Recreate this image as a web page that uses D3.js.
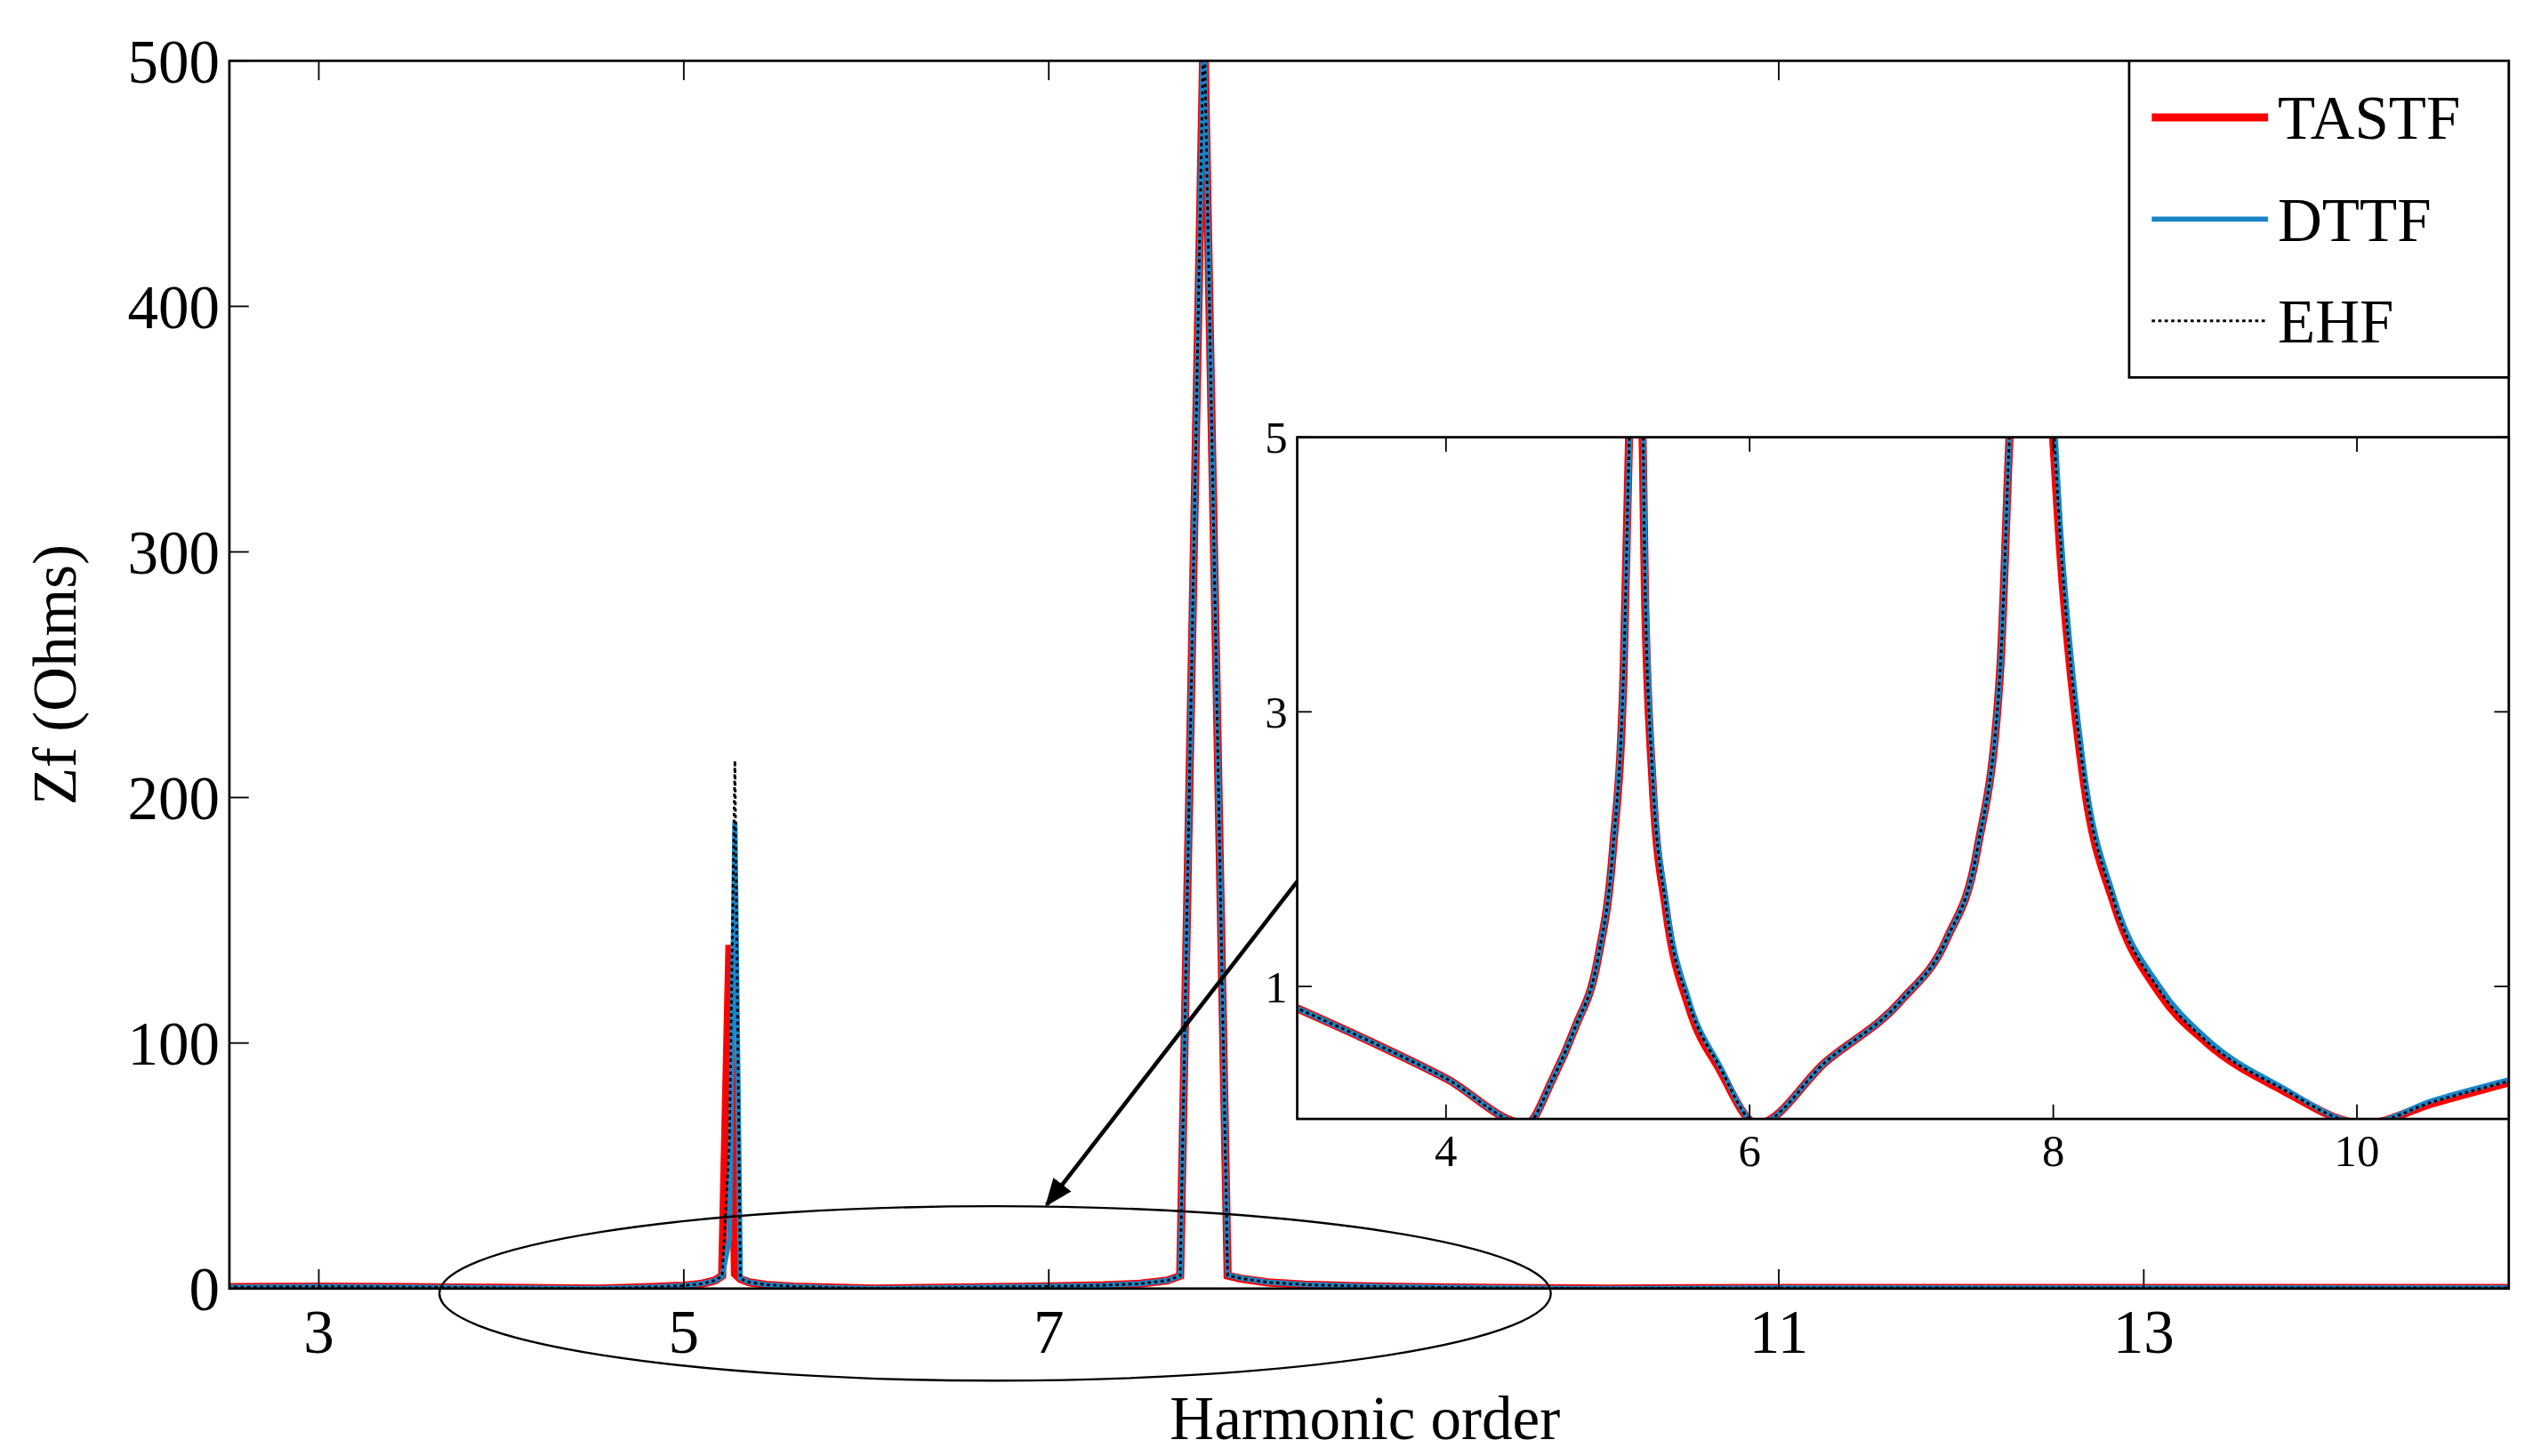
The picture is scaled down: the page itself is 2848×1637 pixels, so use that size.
<!DOCTYPE html>
<html>
<head>
<meta charset="utf-8">
<script src="https://cdn.jsdelivr.net/npm/d3@7"></script>
<style>
  body { margin: 0; background: #fff; }
  text { font-family: "Liberation Serif", "DejaVu Serif", serif; }
</style>
</head>
<body>
<script>
// harmonic order samples
var harmonics = [3.0, 3.5, 4.0, 4.53, 4.7, 4.85, 5.0, 5.1, 5.17, 5.21, 5.25, 5.28, 5.31, 5.36, 5.45, 5.6, 5.8, 6.05,
  6.5, 7.0, 7.3, 7.5, 7.65, 7.72, 7.85, 7.98, 8.05, 8.2, 8.4, 8.7, 9.0, 9.5, 10.05, 10.5, 11.0];
var tastf = [0.85, 0.6, 0.33, 0.0, 0.32, 0.7, 1.2, 2.0, 3.3, 5.2, 140, 6, 3.9, 2.5, 1.55, 0.85, 0.4, 0.0,
  0.45, 0.9, 1.35, 2.0, 3.3, 5.2, 520, 5.3, 4.1, 2.5, 1.6, 0.95, 0.6, 0.25, 0.0, 0.15, 0.3];
var dttf = [0.85, 0.6, 0.33, 0.0, 0.32, 0.7, 1.2, 2.0, 3.3, 5.0, 20, 190, 4.2, 2.6, 1.62, 0.9, 0.43, 0.0,
  0.45, 0.9, 1.35, 2.0, 3.3, 5.2, 520, 5.6, 4.3, 2.6, 1.65, 1.0, 0.63, 0.27, 0.0, 0.17, 0.32];
var ehf = [0.85, 0.6, 0.33, 0.0, 0.32, 0.7, 1.2, 2.0, 3.3, 5.1, 60, 215, 4.0, 2.55, 1.58, 0.88, 0.42, 0.0,
  0.45, 0.9, 1.35, 2.0, 3.3, 5.2, 520, 5.45, 4.2, 2.55, 1.62, 0.97, 0.61, 0.26, 0.0, 0.16, 0.31];
// flat tails outside the sampled range
var tailLeft = 2.5, tailRight = 15;
var mainXTicks = [3, 5, 7, 11, 13];
var mainYTicks = [0, 100, 200, 300, 400, 500];
var insetXTicks = [4, 6, 8, 10];
var insetYTicks = [1, 3, 5];
var legendNames = ['TASTF', 'DTTF', 'EHF'];

var series = [
  { name: 'TASTF', values: tastf, color: '#ff0000', width: 5, dash: null },
  { name: 'DTTF', values: dttf, color: '#1a86c8', width: 3.2, dash: null },
  { name: 'EHF', values: ehf, color: '#000', width: 1.6, dash: '2,2' }
];

var W = 1568, H = 900;
var svg = d3.select('body').append('svg')
  .attr('width', 2848).attr('height', 1637)
  .attr('viewBox', '0 0 ' + W + ' ' + H);

function points(vals, tails) {
  var pts = harmonics.map(function (h, i) { return [h, vals[i]]; });
  if (tails) { pts.unshift([tailLeft, 0.6]); pts.push([tailRight, 0.3]); }
  return pts;
}

function drawPanel(g, x, y, id, tails) {
  g.append('clipPath').attr('id', id).append('rect')
    .attr('x', x.range()[0]).attr('y', y.range()[1])
    .attr('width', x.range()[1] - x.range()[0]).attr('height', y.range()[0] - y.range()[1]);
  var line = d3.line()
    .curve(tails ? d3.curveLinear : d3.curveMonotoneX)
    .x(function (d) { return x(d[0]); })
    .y(function (d) { return y(Math.min(d[1], y.domain()[1] * 1.3)); });
  series.forEach(function (s) {
    g.append('path')
      .attr('clip-path', 'url(#' + id + ')')
      .attr('d', line(points(s.values, tails)))
      .attr('fill', 'none').attr('stroke', s.color)
      .attr('stroke-width', s.width)
      .attr('stroke-dasharray', s.dash);
  });
}

function frame(g, x, y, xt, yt, fs, tl) {
  var x0 = x.range()[0], x1 = x.range()[1], y0 = y.range()[0], y1 = y.range()[1];
  g.append('rect').attr('x', x0).attr('y', y1).attr('width', x1 - x0).attr('height', y0 - y1)
    .attr('fill', 'none').attr('stroke', '#000').attr('stroke-width', 1.5);
  xt.forEach(function (t) {
    g.append('line').attr('x1', x(t)).attr('x2', x(t)).attr('y1', y0).attr('y2', y0 - tl).attr('stroke', '#000');
    g.append('line').attr('x1', x(t)).attr('x2', x(t)).attr('y1', y1).attr('y2', y1 + tl).attr('stroke', '#000');
    g.append('text').attr('x', x(t)).attr('y', y0 + fs * 1.05).attr('text-anchor', 'middle')
      .attr('font-size', fs).text(t);
  });
  yt.forEach(function (t) {
    g.append('line').attr('x1', x0).attr('x2', x0 + tl).attr('y1', y(t)).attr('y2', y(t)).attr('stroke', '#000');
    g.append('line').attr('x1', x1).attr('x2', x1 - tl).attr('y1', y(t)).attr('y2', y(t)).attr('stroke', '#000');
    g.append('text').attr('x', x0 - 6).attr('y', y(t)).attr('dy', '0.35em').attr('text-anchor', 'end')
      .attr('font-size', fs).text(t);
  });
}

// main axes
var x = d3.scaleLinear().domain([2.51, 15]).range([142, 1553]);
var y = d3.scaleLinear().domain([0, 500]).range([797, 37]);
var main = svg.append('g');
drawPanel(main, x, y, 'clipMain', true);
frame(main, x, y, mainXTicks, mainYTicks, 38, 12);

main.append('text').attr('x', 845).attr('y', 890).attr('text-anchor', 'middle')
  .attr('font-size', 38).text('Harmonic order');
main.append('text').attr('transform', 'translate(47,417) rotate(-90)').attr('text-anchor', 'middle')
  .attr('font-size', 38).text('Zf (Ohms)');

// ellipse and arrow
main.append('ellipse').attr('cx', 616).attr('cy', 800).attr('rx', 344).attr('ry', 54)
  .attr('fill', 'none').attr('stroke', '#000').attr('stroke-width', 1.3);
svg.append('defs').append('marker').attr('id', 'arr').attr('viewBox', '0 0 10 10')
  .attr('refX', 9).attr('refY', 5).attr('markerWidth', 7).attr('markerHeight', 7).attr('orient', 'auto')
  .append('path').attr('d', 'M0,1L10,5L0,9z').attr('fill', '#000');
main.append('line').attr('x1', 803).attr('y1', 545).attr('x2', 648).attr('y2', 745)
  .attr('stroke', '#000').attr('stroke-width', 2.5).attr('marker-end', 'url(#arr)');

// inset
var xi = d3.scaleLinear().domain([3.02, 11]).range([803, 1553]);
var yi = d3.scaleLinear().domain([0.035, 5]).range([692, 270]);
var inset = svg.append('g');
inset.append('rect').attr('x', 803).attr('y', 270).attr('width', 750).attr('height', 422).attr('fill', '#fff');
drawPanel(inset, xi, yi, 'clipInset', false);
frame(inset, xi, yi, insetXTicks, insetYTicks, 28, 9);

// legend
var lg = svg.append('g');
lg.append('rect').attr('x', 1318).attr('y', 37).attr('width', 235).attr('height', 196)
  .attr('fill', '#fff').attr('stroke', '#000').attr('stroke-width', 1.5);
legendNames.forEach(function (n, i) {
  var s = series[i], yy = 72 + i * 63;
  lg.append('line').attr('x1', 1332).attr('x2', 1404).attr('y1', yy).attr('y2', yy)
    .attr('stroke', s.color).attr('stroke-width', s.width).attr('stroke-dasharray', s.dash);
  lg.append('text').attr('x', 1410).attr('y', yy).attr('dy', '0.35em').attr('font-size', 38).text(n);
});
</script>
</body>
</html>
